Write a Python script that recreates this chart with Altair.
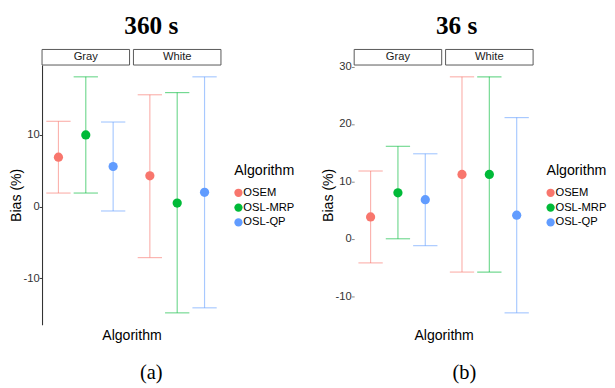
import altair as alt
import pandas as pd

regions = ["Gray", "Gray", "Gray", "White", "White", "White"]
algorithms = ["OSEM", "OSL-MRP", "OSL-QP", "OSEM", "OSL-MRP", "OSL-QP"]
alg_levels = ["OSEM", "OSL-MRP", "OSL-QP"]
alg_colors = ["#F8766D", "#00BA38", "#619CFF"]
strip_labels = ["Gray", "White"]

# panel (a) 360 s
a_mean = [6.9, 10.0, 5.6, 4.3, 0.5, 2.0]
a_low = [1.9, 1.9, -0.6, -7.1, -14.8, -14.1]
a_high = [11.9, 18.1, 11.8, 15.6, 15.9, 18.1]
a_ticks = [-10, 0, 10]

# panel (b) 36 s
b_mean = [3.8, 8.0, 6.8, 11.2, 11.2, 4.1]
b_low = [-4.2, 0.0, -1.2, -5.8, -5.8, -12.9]
b_high = [11.8, 16.1, 14.8, 28.2, 28.2, 21.1]
b_ticks = [-10, 0, 10, 20, 30]

FONT = "Liberation Sans"
SERIF = "Liberation Serif"
PW, PH = 184, 267


def panel(mean, low, high, ticks, title, sub, left_domain, title_dx, sub_dx, leg_gap):
    df = pd.DataFrame({"region": regions, "alg": algorithms,
                       "mean": mean, "low": low, "high": high})
    lo, hi = min(low), max(high)
    pad = 0.05 * (hi - lo)
    yscale = alt.Scale(domain=[lo - pad, hi + pad], nice=False, zero=False)
    xscale = alt.Scale(type="band", paddingInner=0.0426, paddingOuter=0)
    xo = alt.XOffset("alg:N", scale=alt.Scale(domain=alg_levels, paddingInner=0, paddingOuter=0.1))
    x = alt.X("region:N", scale=xscale,
              axis=alt.Axis(title="Algorithm", labels=False, ticks=False, domain=False,
                            titleFontSize=14.5, titleFont=FONT, titleFontWeight="normal",
                            titleColor="black", titlePadding=4))
    yaxis = alt.Axis(title="Bias (%)", values=ticks, grid=False, domain=left_domain,
                     domainColor="#333333", domainWidth=1.1, tickSize=3,
                     tickColor="#333333" if left_domain else "#888888",
                     labelExpr="'' + datum.value",
                     labelFontSize=11.5, labelFont=FONT, labelColor="#333333", labelPadding=0,
                     titleFontSize=14.5, titleFont=FONT, titleFontWeight="normal",
                     titleColor="black", titlePadding=0)
    cscale = alt.Scale(domain=alg_levels, range=alg_colors)
    col = alt.Color("alg:N", scale=cscale, legend=None)
    base = alt.Chart(df)
    rules = base.mark_rule(opacity=0.55, strokeWidth=1.2).encode(
        x=x, xOffset=xo,
        y=alt.Y("low:Q", scale=yscale, axis=yaxis), y2="high:Q", color=col)
    cap_lo = base.mark_tick(size=25, thickness=1.2, opacity=0.55).encode(
        x=x, xOffset=xo, y=alt.Y("low:Q", scale=yscale, axis=yaxis), color=col)
    cap_hi = base.mark_tick(size=25, thickness=1.2, opacity=0.55).encode(
        x=x, xOffset=xo, y=alt.Y("high:Q", scale=yscale, axis=yaxis), color=col)
    pts = base.mark_circle(size=90, opacity=1).encode(
        x=x, xOffset=xo, y=alt.Y("mean:Q", scale=yscale, axis=yaxis), color=col)
    plot = alt.layer(rules, cap_lo, cap_hi, pts).properties(width=PW, height=PH)

    sdf = pd.DataFrame({"region": strip_labels})
    sbase = alt.Chart(sdf)
    sx = alt.X("region:N", scale=xscale, axis=None)
    srect = sbase.mark_rect(fill="white", stroke="#555555", strokeWidth=1).encode(x=sx)
    stext = sbase.mark_text(font=FONT, fontSize=11.5, color="#1A1A1A", baseline="middle").encode(
        x=sx, text="region:N")
    strip = alt.layer(srect, stext).properties(width=PW, height=16)

    # legend drawn from the algorithm levels
    ldf = pd.DataFrame({"alg": alg_levels})
    lbase = alt.Chart(ldf)
    ly = alt.Y("alg:N", scale=alt.Scale(type="point", padding=1.96, domain=alg_levels), axis=None)
    lpts = lbase.mark_circle(size=72, opacity=1, yOffset=15).encode(y=ly, color=col)
    ltxt = lbase.mark_text(align="left", baseline="middle", dx=5, yOffset=15, font=FONT,
                           fontSize=11.5, color="black").encode(y=ly, text="alg:N")
    legend = alt.layer(lpts, ltxt).properties(
        width=8, height=61,
        title=alt.Title("Algorithm", anchor="start", font=FONT, fontSize=14.6,
                        fontWeight="normal", color="black", baseline="alphabetic", offset=-27))

    main = alt.vconcat(strip, plot, spacing=0, bounds="flush")
    row = alt.hconcat(main, legend, spacing=leg_gap, center=True,
                      title=alt.Title(title, font=SERIF, fontSize=26, fontWeight="bold",
                                      color="black", anchor="middle", offset=10, dx=title_dx))
    outer = alt.vconcat(row, title=alt.Title(sub, orient="bottom", font=SERIF, fontSize=21,
                                             fontWeight="normal", color="black",
                                             anchor="middle", offset=21, dx=sub_dx))
    return outer


pa = panel(a_mean, a_low, a_high, a_ticks, "360 s", "(a)", True, 0, 0, 12)
pb = panel(b_mean, b_low, b_high, b_ticks, "36 s", "(b)", False, -7, 1, 12)

chart = alt.hconcat(pa, pb, spacing=26).properties(
    padding={"left": 0, "top": 0, "right": 0, "bottom": 0}
).configure(font=FONT, background="white").configure_view(stroke="transparent", strokeWidth=0)

chart.save("out.html", embed_options={"renderer": "svg", "actions": False})
